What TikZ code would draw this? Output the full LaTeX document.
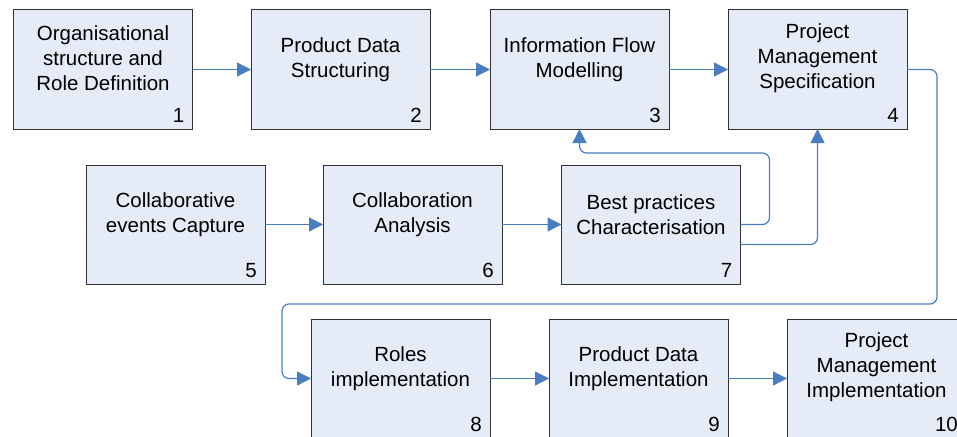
\documentclass[tikz,border=0pt]{standalone}
\usepackage{fontspec}
\setmainfont{Liberation Sans}
\usetikzlibrary{arrows.meta,calc}
\definecolor{boxfill}{RGB}{230,236,247}
\definecolor{boxline}{RGB}{50,50,50}
\definecolor{conncol}{RGB}{74,126,193}
\tikzset{
  box/.style={draw=boxline, line width=1pt, fill=boxfill, minimum width=179pt, minimum height=119pt, inner sep=0pt, outer sep=0pt},
  btext/.style={align=center, font=\fontsize{20.5}{25}\selectfont, text=black, inner sep=0pt},
  bnum/.style={font=\fontsize{20.5}{25}\selectfont, anchor=south east, inner sep=0pt, text=black},
  conn/.style={draw=conncol, line width=1.2pt, -{Triangle[length=14pt,width=14pt]}, rounded corners=7pt}
}
\begin{document}
\begin{tikzpicture}[x=1pt,y=-1pt]
\useasboundingbox (0,0) rectangle (957,436);
% row 1
\node[box] (b1) at (103,69.5) {};
\node[box] (b2) at (340.5,69.5) {};
\node[box] (b3) at (579.5,69.5) {};
\node[box] (b4) at (817.5,69.5) {};
% row 2
\node[box] (b5) at (175.5,224.5) {};
\node[box] (b6) at (412.5,224.5) {};
\node[box] (b7) at (651,224.5) {};
% row 3
\node[box] (b8) at (400.5,378.5) {};
\node[box] (b9) at (638.5,378.5) {};
\node[box] (b10) at (876.5,378.5) {};
% texts
\node[btext] (t1) at ($(b1.north)+(0,48.5)$) {Organisational\\structure and\\Role Definition};
\node[btext] (t2) at ($(b2.north)+(0,49.5)$) {Product Data\\Structuring};
\node[btext] (t3) at ($(b3.north)+(0,49.5)$) {Information Flow\\Modelling};
\node[btext] (t4) at ($(b4.north)+(0,48.5)$) {Project\\Management\\Specification};
\node[btext] (t5) at ($(b5.north)+(0,49.5)$) {Collaborative\\events Capture};
\node[btext] (t6) at ($(b6.north)+(0,49.5)$) {Collaboration\\Analysis};
\node[btext] (t7) at ($(b7.north)+(0,49.5)$) {Best practices\\Characterisation};
\node[btext] (t8) at ($(b8.north)+(0,49.5)$) {Roles\\implementation};
\node[btext] (t9) at ($(b9.north)+(0,49.5)$) {Product Data\\Implementation};
\node[btext] (t10) at ($(b10.north)+(0,48.5)$) {Project\\Management\\Implementation};
% numbers
\node[bnum] (n1) at ($(b1.south east)+(-8,-6)$) {1};
\node[bnum] (n2) at ($(b2.south east)+(-8,-6)$) {2};
\node[bnum] (n3) at ($(b3.south east)+(-8,-6)$) {3};
\node[bnum] (n4) at ($(b4.south east)+(-8,-6)$) {4};
\node[bnum] (n5) at ($(b5.south east)+(-8,-6)$) {5};
\node[bnum] (n6) at ($(b6.south east)+(-8,-6)$) {6};
\node[bnum] (n7) at ($(b7.south east)+(-8,-6)$) {7};
\node[bnum] (n8) at ($(b8.south east)+(-8,-6)$) {8};
\node[bnum] (n9) at ($(b9.south east)+(-8,-6)$) {9};
\node[bnum] (n10) at ($(b10.south east)+(-8,-6)$) {10};
% connectors
\draw[conn] (b1) -- (b2);
\draw[conn] (b2) -- (b3);
\draw[conn] (b3) -- (b4);
\draw[conn] (b5) -- (b6);
\draw[conn] (b6) -- (b7);
\draw[conn] (b8) -- (b9);
\draw[conn] (b9) -- (b10);
\draw[conn] (b7.east) -- ++(29,0) |- ($(b3.south)+(0,24)$) -- (b3.south);
\draw[conn] ($(b7.east)+(0,20)$) -| (b4.south);
\coordinate (c1) at (937,304);
\coordinate (c2) at (282,304);
\draw[conn] (b4.east) -| (c1) -- (c2) |- (b8.west);
\end{tikzpicture}
\end{document}
